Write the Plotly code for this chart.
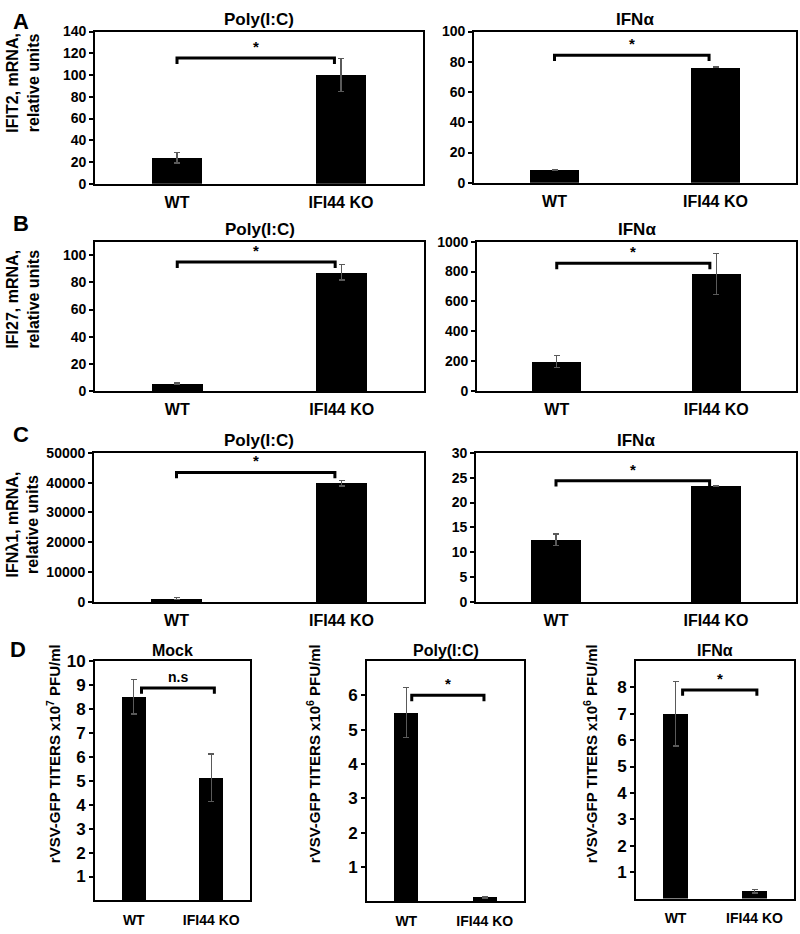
import plotly.graph_objects as go

# ---------------- data ----------------
categories = ["WT", "IFI44 KO"]

ifit2_polyic = [24, 100]
ifit2_polyic_err = [5, 15]
ifit2_ifna = [8.5, 76.5]
ifit2_ifna_err = [0.4, 0.4]

ifi27_polyic = [5.3, 87.5]
ifi27_polyic_err = [0.5, 5.7]
ifi27_ifna = [197, 785]
ifi27_ifna_err = [42, 138]

ifnl1_polyic = [1200, 39800]
ifnl1_polyic_err = [350, 900]
ifnl1_ifna = [12.5, 23.3]
ifnl1_ifna_err = [1.2, 0.15]

titer_mock = [8.5, 5.12]
titer_mock_err = [0.72, 1.0]
titer_polyic = [5.5, 0.12]
titer_polyic_err = [0.72, 0.02]
titer_ifna = [7.0, 0.28]
titer_ifna_err = [1.22, 0.07]

# significance bracket levels and labels
bracket_levels = [115.6, 84.4, 95, 855, 43400, 24.4, 8.87, 6.0, 7.9]
bracket_labels = ["*", "*", "*", "*", "*", "*", "n.s", "*", "*"]

panel_titles = ["Poly(I:C)", "IFNα", "Poly(I:C)", "IFNα", "Poly(I:C)", "IFNα",
                "Mock", "Poly(I:C)", "IFNα"]
ytitles_abc = ["IFIT2, mRNA,<br>relative units", "IFI27, mRNA,<br>relative units",
               "IFNλ1, mRNA,<br>relative units"]
ytitles_d = ["rVSV-GFP TITERS x10<sup>7</sup> PFU/ml",
             "rVSV-GFP TITERS x10<sup>6</sup> PFU/ml",
             "rVSV-GFP TITERS x10<sup>6</sup> PFU/ml"]
panel_letters = ["A", "B", "C", "D"]

values = [ifit2_polyic, ifit2_ifna, ifi27_polyic, ifi27_ifna, ifnl1_polyic, ifnl1_ifna,
          titer_mock, titer_polyic, titer_ifna]
errors = [ifit2_polyic_err, ifit2_ifna_err, ifi27_polyic_err, ifi27_ifna_err,
          ifnl1_polyic_err, ifnl1_ifna_err, titer_mock_err, titer_polyic_err, titer_ifna_err]

# ---------------- layout / style ----------------
W, H = 800, 934
FONT = "Arial, Liberation Sans, sans-serif"

def xd(a, b):
    return [a / W, b / W]

def yd(top, bottom):
    return [1 - bottom / H, 1 - top / H]

# pixel boxes (left, right, top, bottom), y ranges, tick values
boxes = [
    (95, 423, 23, 178), (474, 796, 23, 177),
    (95, 424, 237, 389), (477, 796, 237, 389),
    (94, 424, 452, 604), (476, 796, 452, 604),
    (95, 250, 664, 908), (367, 524, 664, 909), (636, 794, 664, 906),
]
yranges = [[0, 140], [0, 100], [0, 110], [0, 1000], [0, 50000], [0, 30],
           [0, 10], [0, 7], [0, 9]]
yticks = [list(range(0, 141, 20)), list(range(0, 101, 20)), list(range(0, 101, 20)),
          list(range(0, 1001, 200)), list(range(0, 50001, 10000)), list(range(0, 31, 5)),
          list(range(1, 11)), list(range(1, 7)), list(range(1, 9))]
bracket_x = [(0.0, 0.96)] * 6 + [(0.1, 1.04), (0.07, 0.99), (0.09, 1.03)]

fig = go.Figure()
xs = list(range(len(categories)))
BAR_W = 0.31

for i in range(9):
    l, r, t, b = boxes[i]
    n = "" if i == 0 else str(i + 1)
    xa, ya = "x" + n, "y" + n
    is_d = i >= 6
    fig.add_trace(go.Bar(
        x=xs, y=values[i], width=BAR_W, marker=dict(color="black", line=dict(width=0)),
        error_y=dict(type="data", array=errors[i], color="#5a5a5a", thickness=1.3, width=3),
        xaxis=xa, yaxis=ya, showlegend=False, hoverinfo="skip"))
    # bracket
    lvl = bracket_levels[i]
    span = yranges[i][1] - yranges[i][0]
    tip = 6.0 / (b - t) * span
    x0, x1 = bracket_x[i]
    fig.add_trace(go.Scatter(
        x=[x0, x0, x1, x1], y=[lvl - tip, lvl, lvl, lvl - tip], mode="lines",
        line=dict(color="black", width=3), xaxis=xa, yaxis=ya,
        showlegend=False, hoverinfo="skip"))
    fig.add_annotation(
        x=(x0 + x1) / 2, y=lvl, xref=xa, yref=ya, text="<b>%s</b>" % bracket_labels[i],
        showarrow=False, yanchor="bottom", yshift=1,
        font=dict(size=14 if bracket_labels[i] != "*" else 15, family=FONT, color="black"))

    axis_common = dict(showline=True, linecolor="black", linewidth=1.8, mirror=True,
                       showgrid=False, zeroline=False)
    fig.update_layout(**{
        ("xaxis" + n): dict(
            domain=xd(l, r), anchor=ya, range=[-0.5, 1.5], tickvals=xs,
            ticktext=["<b>%s</b>" % c for c in categories],
            ticks="", tickfont=dict(size=14 if is_d else 16, family=FONT, color="black"),
            ticklabelstandoff=6 if is_d else 3, **axis_common),
        ("yaxis" + n): dict(
            domain=yd(t, b), anchor=xa, range=yranges[i], tickvals=yticks[i],
            ticktext=["<b>%d</b>" % v for v in yticks[i]],
            ticks="outside", ticklen=4, tickwidth=1.5, tickcolor="black",
            tickfont=dict(size=17 if is_d else 14, family=FONT, color="black"),
            **axis_common),
    })
    # panel title
    fig.add_annotation(
        x=(l + r) / 2 / W, y=1 - (t - 12 if not is_d else t - 11) / H, xref="paper", yref="paper",
        text="<b>%s</b>" % panel_titles[i], showarrow=False, yanchor="middle", xanchor="center",
        font=dict(size=16 if is_d else 17, family=FONT, color="black"))

# y titles A-C
for k, (yc) in enumerate([75, 296, 525]):
    fig.add_annotation(
        x=23 / W, y=1 - yc / H, xref="paper", yref="paper", text="<b>%s</b>" % ytitles_abc[k],
        textangle=-90, showarrow=False, xanchor="center", yanchor="middle",
        font=dict(size=16, family=FONT, color="black"))

# y titles D
for k, xc in enumerate([53, 313, 590]):
    fig.add_annotation(
        x=xc / W, y=1 - 759 / H, xref="paper", yref="paper", text="<b>%s</b>" % ytitles_d[k],
        textangle=-90, showarrow=False, xanchor="center", yanchor="middle",
        font=dict(size=15, family=FONT, color="black"))

# panel letters
for letter, (px, py) in zip(panel_letters, [(11, 13), (11, 218), (11, 433), (8, 652)]):
    fig.add_annotation(
        x=px / W, y=1 - py / H, xref="paper", yref="paper", text="<b>%s</b>" % letter,
        showarrow=False, xanchor="left", yanchor="middle",
        font=dict(size=22, family=FONT, color="black"))

fig.update_layout(
    width=W, height=H, margin=dict(l=0, r=0, t=0, b=0),
    paper_bgcolor="white", plot_bgcolor="white",
    font=dict(family=FONT, color="black"), bargap=0.0,
)

fig.write_html(
    "out.html",
    config={"displayModeBar": False},
    post_script="document.body.style.margin='0px';"
                "document.documentElement.style.overflow='hidden';",
)
